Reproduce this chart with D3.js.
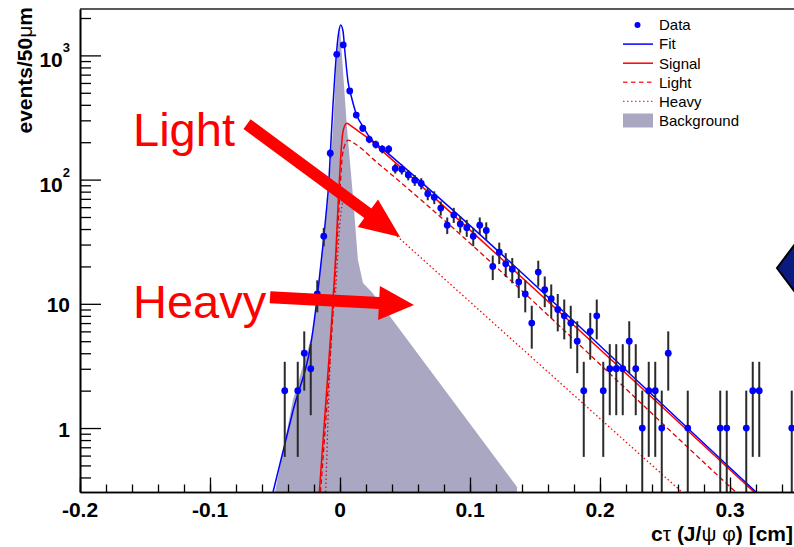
<!DOCTYPE html>
<html><head><meta charset="utf-8">
<script src="https://cdn.jsdelivr.net/npm/d3@7"></script>
<style>body{margin:0;background:#fff}svg{display:block}</style>
</head><body>
<svg id="c" width="794" height="547"></svg>
<script>
// ---------- data ----------
const binCenters = [-0.0425,-0.0325,-0.0275,-0.0225,-0.0175,-0.0125,-0.0075,-0.0025,0.0025,0.0075,0.0125,0.0175,0.0225,0.0275,0.0325,0.0375,0.0425,0.0475,0.0525,0.0575,0.0625,0.0675,0.0725,0.0775,0.0825,0.0875,0.0925,0.0975,0.1025,0.1075,0.1125,0.1175,0.1225,0.1275,0.1325,0.1375,0.1425,0.1475,0.1525,0.1575,0.1625,0.1675,0.1725,0.1775,0.1825,0.1875,0.1925,0.1975,0.2025,0.2075,0.2125,0.2175,0.2225,0.2275,0.2325,0.2375,0.2425,0.2475,0.2525,0.2675,0.2925,0.2975,0.3125,0.3175,0.3225,0.3475];
const counts     = [2,2,4,3,12,35,163,1020,1213,517,331,259,211,192,176,176,123,121,109,99,93,77,72,59,43,52,44,41,35,43,39,20,26,21,19,15,12,7,18,13,11,9,8,7,5,2,6,8,2,3,3,3,5,3,1,2,2,1,4,1,1,1,1,2,2,1];

const fitX = [-0.0515,-0.0362,-0.0208,-0.0169,-0.0131,-0.0108,-0.0085,-0.0069,-0.0054,-0.0038,-0.0023,-0.0008,0.0005,0.0023,0.0038,0.0062,0.0090,0.0128,0.0179,0.0231,0.0331,0.3208,0.3538];
const fitY = [0.305,1.37,6.15,12.9,29.7,51.9,99.3,208,399,735,1169,1572,1757,1572,1065,611,454,331,265,216,176,0.300,0.1436];

const signalX = [-0.0159,-0.0069,-0.0031,-0.0013,0.0004,0.0019,0.0035,0.0052,0.0077,0.0128,0.0205,0.0331,0.3208,0.3538];
const signalY = [0.305,6.15,27.1,68.5,144,229,270,284,275,251,220,168,0.29,0.139];

const lightX = [-0.0150,-0.0062,-0.0004,0.0015,0.0035,0.0064,0.0092,0.0308,0.3052,0.3538];
const lightY = [0.305,6.15,68.5,144,187,208,201,131,0.300,0.102];

const heavyX = [-0.0110,-0.0064,-0.0031,-0.0008,0.0015,0.0038,0.0077,0.0200,0.0446,0.2641,0.3538];
const heavyY = [0.305,6.15,14,36,62,73,74,58.9,34.5,0.298,0.043];

const bgX = [-0.0500,-0.0362,-0.0208,-0.0092,-0.0052,-0.0027,0.0000,0.0023,0.0052,0.0102,0.0138,0.0177,0.0246,0.1362];
const bgY = [0.305,1.68,5.93,68.5,275,918,1662,749,275,68.5,22.5,14.7,12.4,0.335];

const xMajor = [-0.2,-0.1,0,0.1,0.2,0.3,0.4];
const xTickLabels = ['-0.2','-0.1','0','0.1','0.2','0.3'];
const yMajor = [1,10,100,1000];
const yTickBase = ['1','10','10','10'];
const yTickExp  = ['','','2','3'];

const legendLabels = ['Data','Fit','Signal','Light','Heavy','Background'];
const annotLabels = ['Light','Heavy'];
const annotPos = [[-0.1592,186.5],[-0.1592,7.69]];
const arrowFrom = [[-0.0715,280],[-0.0538,11.3]];
const arrowTo   = [[0.0462,34.5],[0.0569,9.78]];
const markerPos = [0.3615,19.4];

// ---------- scales ----------
const x = d3.scaleLinear().domain([-0.2,0.4]).range([80,860]);
const y = d3.scaleLog().domain([0.3055,2363]).range([492,9]);
const yMin = y.domain()[0];

const svg = d3.select('#c');
const FONT = '"Liberation Sans", Arial, Helvetica, sans-serif';
svg.append('defs').append('clipPath').attr('id','plot')
  .append('rect').attr('x',80).attr('y',9).attr('width',780).attr('height',483);
const g = svg.append('g').attr('clip-path','url(#plot)');

const zip = (a,b)=>a.map((v,i)=>[v,b[i]]);

// background
g.append('path').datum(zip(bgX,bgY))
  .attr('d', d3.area().x(d=>x(d[0])).y0(y(yMin)).y1(d=>y(d[1])))
  .attr('fill','#a9a7c1');

const line = d3.line().x(d=>x(d[0])).y(d=>y(d[1])).curve(d3.curveMonotoneX);
g.append('path').datum(zip(heavyX,heavyY)).attr('d',line).attr('fill','none')
  .attr('stroke','#ff0000').attr('stroke-width',1.3).attr('stroke-dasharray','1.5,2.5');
g.append('path').datum(zip(lightX,lightY)).attr('d',line).attr('fill','none')
  .attr('stroke','#e00000').attr('stroke-width',1.3).attr('stroke-dasharray','5,3');
g.append('path').datum(zip(signalX,signalY)).attr('d',line).attr('fill','none')
  .attr('stroke','#ff0000').attr('stroke-width',1.5);
g.append('path').datum(zip(fitX,fitY)).attr('d',line).attr('fill','none')
  .attr('stroke','#0000ff').attr('stroke-width',1.5);

// data with error bars
const pts = zip(binCenters,counts);
g.selectAll('line.err').data(pts).enter().append('line').attr('class','err')
  .attr('x1',d=>x(d[0])).attr('x2',d=>x(d[0]))
  .attr('y1',d=>y(Math.max(d[1]-Math.sqrt(d[1]),yMin*0.5)))
  .attr('y2',d=>y(d[1]+Math.sqrt(d[1])))
  .attr('stroke','#2a2a2a').attr('stroke-width',2);
g.selectAll('circle.pt').data(pts).enter().append('circle').attr('class','pt')
  .attr('cx',d=>x(d[0])).attr('cy',d=>y(d[1])).attr('r',3.4).attr('fill','#0000ff');

// ---------- axes ----------
const xMinor = d3.range(-0.2,0.4001,0.02).map(v=>+v.toFixed(3));
const yMinor = [];
[0.1,1,10,100,1000].forEach(dec=>{for(let k=2;k<=9;k++){const v=k*dec; if(v>=yMin && v<=y.domain()[1]) yMinor.push(v);}});

const ax = svg.append('g').attr('transform','translate(0,492)').attr('color','#000');
ax.call(d3.axisBottom(x).tickValues(xMinor).tickSize(-7.5).tickFormat('').tickSizeOuter(0));
ax.call(g2=>g2.append('g').call(d3.axisBottom(x).tickValues(xMajor).tickSize(-14.5).tickFormat('').tickSizeOuter(0)));
ax.selectAll('path.domain').attr('stroke-width',1.6);
ax.selectAll('line').attr('stroke-width',1.3);

const ay = svg.append('g').attr('transform','translate(80,0)').attr('color','#000');
ay.call(d3.axisLeft(y).tickValues(yMinor).tickSize(-11).tickFormat('').tickSizeOuter(0));
ay.call(g2=>g2.append('g').call(d3.axisLeft(y).tickValues(yMajor).tickSize(-21).tickFormat('').tickSizeOuter(0)));
ay.selectAll('path.domain').attr('stroke-width',1.6);
ay.selectAll('line').attr('stroke-width',1.3);

// top frame line
svg.append('line').attr('x1',x(-0.2)).attr('x2',x(0.4)).attr('y1',y(y.domain()[1])).attr('y2',y(y.domain()[1]))
  .attr('stroke','#222').attr('stroke-width',1.6);

// tick labels (only those inside the window)
svg.selectAll('text.xl').data(xTickLabels).enter().append('text').attr('class','xl')
  .attr('x',(d,i)=>x(xMajor[i])).attr('y',517).attr('text-anchor','middle')
  .attr('font-family',FONT).attr('font-weight','bold').attr('font-size',21)
  .text(d=>d);

yMajor.forEach((v,i)=>{
  const t = svg.append('text').attr('x',70).attr('text-anchor','end')
    .attr('font-family',FONT).attr('font-weight','bold').attr('font-size',21);
  if(yTickExp[i]===''){
    t.attr('y',y(v)+8.5).text(yTickBase[i]);
  } else {
    t.attr('y',y(v)+12);
    t.append('tspan').text(yTickBase[i]);
    t.append('tspan').attr('font-size',13).attr('dy',-15).text(yTickExp[i]);
  }
});

// axis titles
const yt = svg.append('text').attr('transform','translate(32,7) rotate(-90)').attr('text-anchor','end')
  .attr('font-family',FONT).attr('font-size',21).attr('font-weight','bold');
yt.append('tspan').text('events/50');
yt.append('tspan').attr('font-weight','normal').text('μ');
yt.append('tspan').text('m');

const xt = svg.append('text').attr('x',793).attr('y',541).attr('text-anchor','end')
  .attr('font-family',FONT).attr('font-size',21).attr('font-weight','bold');
xt.append('tspan').text('c');
xt.append('tspan').attr('font-weight','normal').text('τ');
xt.append('tspan').text(' (J/');
xt.append('tspan').attr('font-weight','normal').text('ψ φ');
xt.append('tspan').text(') [cm]');

// ---------- legend ----------
const lg = svg.append('g').attr('font-family',FONT).attr('font-size',15);
const rowY = i => 25 + i*19.1;
legendLabels.forEach((lab,i)=>{
  lg.append('text').attr('x',659).attr('y',rowY(i)+5.3).text(lab).attr('fill','#000');
});
lg.append('circle').attr('cx',637.5).attr('cy',rowY(0)).attr('r',3).attr('fill','#0000ff');
lg.append('line').attr('x1',623).attr('x2',653).attr('y1',rowY(1)).attr('y2',rowY(1)).attr('stroke','#0000ff').attr('stroke-width',1.5);
lg.append('line').attr('x1',623).attr('x2',653).attr('y1',rowY(2)).attr('y2',rowY(2)).attr('stroke','#ff0000').attr('stroke-width',1.5);
lg.append('line').attr('x1',623).attr('x2',653).attr('y1',rowY(3)).attr('y2',rowY(3)).attr('stroke','#ff3333').attr('stroke-width',1.4).attr('stroke-dasharray','4.5,3.5');
lg.append('line').attr('x1',623).attr('x2',653).attr('y1',rowY(4)).attr('y2',rowY(4)).attr('stroke','#ff3333').attr('stroke-width',1.3).attr('stroke-dasharray','1.5,2.5');
lg.append('rect').attr('x',623).attr('y',rowY(5)-7).attr('width',30).attr('height',14).attr('fill','#a9a7c1');

// ---------- annotations ----------
function arrowPath(p0,p1,w,L,hw){
  const dx=p1[0]-p0[0], dy=p1[1]-p0[1], len=Math.hypot(dx,dy);
  const ux=dx/len, uy=dy/len, nx=-uy, ny=ux;
  const bx=p1[0]-ux*L, by=p1[1]-uy*L;
  const P=[[p0[0]+nx*w/2,p0[1]+ny*w/2],[bx+nx*w/2,by+ny*w/2],[bx+nx*hw,by+ny*hw],p1,
           [bx-nx*hw,by-ny*hw],[bx-nx*w/2,by-ny*w/2],[p0[0]-nx*w/2,p0[1]-ny*w/2]];
  return 'M'+P.map(p=>p[0].toFixed(1)+','+p[1].toFixed(1)).join('L')+'Z';
}
const arrowDims = [[12,40,17],[12,35,17]];
arrowFrom.forEach((f,i)=>{
  const p0=[x(f[0]),y(f[1])], p1=[x(arrowTo[i][0]),y(arrowTo[i][1])];
  svg.append('path').attr('d',arrowPath(p0,p1,...arrowDims[i])).attr('fill','#ff0000');
});
annotLabels.forEach((lab,i)=>{
  svg.append('text').attr('x',x(annotPos[i][0])).attr('y',y(annotPos[i][1]))
    .attr('font-family',FONT).attr('font-size',47).attr('fill','#ff0000').text(lab);
});

// partial marker at right edge
svg.append('path').attr('transform',`translate(${x(markerPos[0])},${y(markerPos[1])})`)
  .attr('d','M-33,0L0,-44L33,0L0,44Z').attr('fill','#0b1a80').attr('stroke','#000').attr('stroke-width',2);
</script>
</body></html>
